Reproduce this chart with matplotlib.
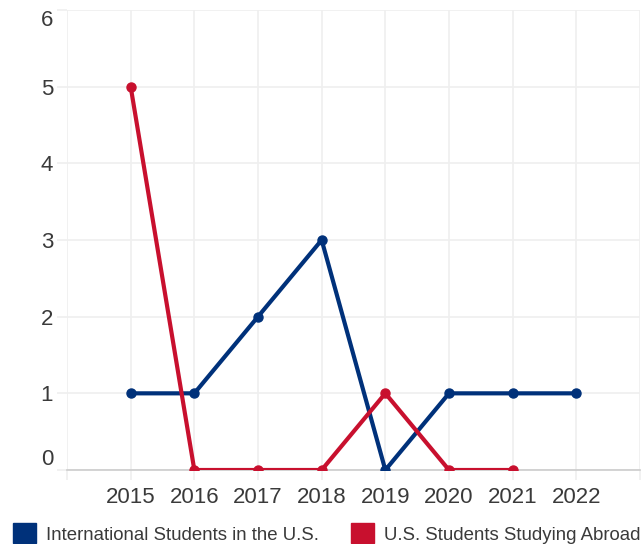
import numpy as np
import matplotlib.pyplot as plt
from matplotlib.patches import Patch

plt.rcParams['font.family'] = ['Liberation Sans', 'DejaVu Sans']

years = ['2015', '2016', '2017', '2018', '2019', '2020', '2021', '2022']
intl_in_us = [1, 1, 2, 3, 0, 1, 1, 1]
us_abroad = [5, 0, 0, 0, 1, 0, 0]

blue = '#00317a'
red = '#c8102e'
grid_c = '#efefef'
text_c = '#3a3a3a'

fig = plt.figure(figsize=(6.44, 5.44), dpi=100)
ax = fig.add_axes([67 / 644, 1 - 470 / 544, (640 - 67) / 644, (470 - 10) / 544])

x1 = np.arange(len(intl_in_us))
x2 = np.arange(len(us_abroad))
ax.plot(x1, intl_in_us, color=blue, lw=3, marker='o', ms=6.5, zorder=3)
ax.plot(x2, us_abroad, color=red, lw=3, marker='o', ms=6.5, zorder=4)

ax.set_xlim(-1, len(years))
ax.set_ylim(0, 6)

ax.set_xticks(np.arange(-1, len(years) + 1))
ax.set_xticklabels([''] + years + [''])
ax.set_yticks(range(0, 7))

ax.grid(True, color=grid_c, lw=1.2)
ax.set_axisbelow(True)
ax.tick_params(axis='both', colors=grid_c, labelcolor=text_c, labelsize=16, length=7, width=1.2)
ax.tick_params(axis='x', pad=5)
ax.tick_params(axis='y', pad=3)

# end labels sit inside the plot area
ylabels = ax.get_yticklabels()
ylabels[0].set_verticalalignment('bottom')
ylabels[-1].set_verticalalignment('top')
ylabels[-1].set_y(5.95)

for s in ['top', 'right', 'left']:
    ax.spines[s].set_visible(False)
ax.spines['bottom'].set_color('#cccccc')
ax.spines['bottom'].set_linewidth(1.2)

handles = [Patch(color=blue, label='International Students in the U.S.'),
           Patch(color=red, label='U.S. Students Studying Abroad')]
fig.legend(handles=handles, loc='lower left', bbox_to_anchor=(-0.006, -0.03), ncol=2,
           frameon=False, fontsize=13.4, handlelength=1.25, handleheight=1.25,
           handletextpad=0.55, columnspacing=1.7, labelcolor=text_c)

fig.savefig('out.png', dpi=100)
